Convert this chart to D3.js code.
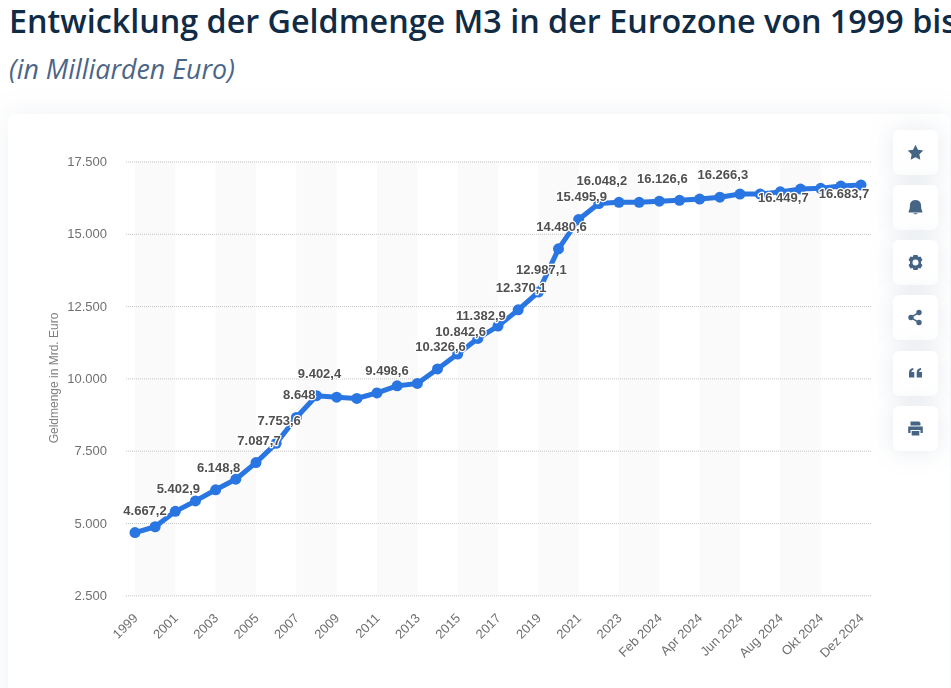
<!DOCTYPE html>
<html>
<head>
<meta charset="utf-8">
<script src="https://cdn.jsdelivr.net/npm/d3@7"></script>
<style>
  html, body { margin: 0; padding: 0; background: #fff; overflow: hidden; }
  svg { display: block; }
  .title { font: 600 32.3px "Open Sans"; fill: #0f2b46; }
  .subtitle { font: italic 400 26.8px "Open Sans"; fill: #4a6587; }
  .tick text { font-family: "Liberation Sans"; font-size: 13px; fill: #707070; }
  .ytitle { font: 12px "Liberation Sans"; fill: #808080; opacity: 0.999; }
  .dlabel { font: bold 13px "Liberation Sans"; fill: #505050; stroke: #fff; stroke-width: 2.5px; paint-order: stroke; stroke-linejoin: round; }
</style>
</head>
<body>
<svg id="chart" width="951" height="688"></svg>
<script>
const categories = ["1999","2000","2001","2002","2003","2004","2005","2006","2007","2008","2009","2010","2011","2012","2013","2014","2015","2016","2017","2018","2019","2020","2021","2022","2023",
  "Jan 2024","Feb 2024","Mär 2024","Apr 2024","Mai 2024","Jun 2024","Jul 2024","Aug 2024","Sep 2024","Okt 2024","Nov 2024","Dez 2024"];
const values = [4667.2,4870,5402.9,5763,6148.8,6514,7087.7,7753.6,8648,9402.4,9351,9306,9498.6,9742,9825,10326.6,10842.6,11382.9,11808,12370.1,12987.1,14480.6,15495.9,16048.2,16087,
  16090,16126.6,16157,16202,16266.3,16375,16375,16449.7,16548,16573,16650,16683.7];
const yTicks = [2500,5000,7500,10000,12500,15000,17500];
const labelled = ["1999","2001","2003","2005","2006","2007","2008","2011","2014","2015","2016","2018","2019","2020","2021","2022","Feb 2024","Mai 2024","Aug 2024","Dez 2024"];
// labels that don't sit the usual way above their point
const labelShift = { "1999": [10, -22], "2011": [10, -22], "Aug 2024": [3, 6], "Dez 2024": [-17, 8] };

const de = d3.formatLocale({ decimal: ",", thousands: ".", grouping: [3], currency: ["", " €"] });
const fmtTick = de.format(",d");
const fmtLabel = de.format(",.1~f");

const svg = d3.select("#chart");
const blue = "#2975e1";

// header
svg.append("text").attr("class", "title").attr("x", 9).attr("y", 33).text("Entwicklung der Geldmenge M3 in der Eurozone von 1999 bis");
svg.append("text").attr("class", "subtitle").attr("x", 9).attr("y", 79).text("(in Milliarden Euro)");

// card
svg.append("rect").attr("x", 8).attr("y", 114).attr("width", 942).attr("height", 640).attr("rx", 7)
  .attr("fill", "#fff").style("filter", "drop-shadow(0 0 14px rgba(70,100,132,0.09))");

const x = d3.scalePoint().domain(categories).range([135, 861]);
const y = d3.scaleLinear().domain([2500, 17500]).range([595.3, 161.5]);

// alternating bands
const bandStarts = d3.range(0, categories.length - 2, 4);
svg.append("g").selectAll("rect").data(bandStarts).join("rect")
  .attr("x", i => x(categories[i]))
  .attr("width", i => x(categories[i + 2]) - x(categories[i]))
  .attr("y", y(17500)).attr("height", y(2500) - y(17500))
  .attr("fill", "#fafafa");

// y axis + grid
const yAxis = svg.append("g").attr("transform", "translate(126,0)").style("opacity", 0.999)
  .call(d3.axisLeft(y).tickValues(yTicks).tickFormat(fmtTick).tickSize(-745).tickPadding(19));
yAxis.select(".domain").remove();
yAxis.selectAll(".tick line").attr("stroke", "#c4c4c4").attr("stroke-dasharray", "1,1");

svg.append("text").attr("class", "ytitle").attr("text-anchor", "middle")
  .attr("transform", "translate(58,378) rotate(-90)").text("Geldmenge in Mrd. Euro");

// x axis
const xAxis = svg.append("g").attr("transform", "translate(0,595)").style("opacity", 0.999)
  .call(d3.axisBottom(x).tickValues(categories.filter((d, i) => i % 2 == 0)).tickSize(0));
xAxis.select(".domain").remove();
xAxis.selectAll(".tick text")
  .attr("text-anchor", "end").attr("dy", null).attr("y", 0)
  .attr("transform", "translate(3,24) rotate(-45)");

// line + points
const line = d3.line().x((d, i) => x(categories[i])).y(d => y(d));
svg.append("path").datum(values).attr("d", line).attr("fill", "none")
  .attr("stroke", blue).attr("stroke-width", 5).attr("stroke-linejoin", "round");
svg.append("g").selectAll("circle").data(values).join("circle")
  .attr("cx", (d, i) => x(categories[i])).attr("cy", d => y(d)).attr("r", 5.5).attr("fill", blue);

// data labels
svg.append("g").style("opacity", 0.999).selectAll("text").data(labelled).join("text")
  .attr("class", "dlabel").attr("text-anchor", "middle").attr("dominant-baseline", "central")
  .attr("x", c => x(c) + (labelShift[c] ? labelShift[c][0] : 3))
  .attr("y", c => y(values[categories.indexOf(c)]) + (labelShift[c] ? labelShift[c][1] : -22.5))
  .text(c => fmtLabel(values[categories.indexOf(c)]));

// side buttons
const iconColor = "#466484";
const buttonTops = [130, 185, 240, 295, 351, 406];
const dot = (cx, cy, r) => `M${cx - r},${cy} A${r},${r} 0 1,0 ${cx + r},${cy} A${r},${r} 0 1,0 ${cx - r},${cy}Z`;
const icons = [
  "M0,-7.8 L2.4,-2.8 7.8,-2 3.9,1.8 4.8,7.2 0,4.7 -4.8,7.2 -3.9,1.8 -7.8,-2 -2.4,-2.8Z",
  "M0,-7.5 C4.4,-7.5 5.6,-4.4 5.6,-1.5 C5.6,1.2 6.2,2.6 6.8,3.6 L6.8,5 L-6.8,5 L-6.8,3.6 C-6.2,2.6 -5.6,1.2 -5.6,-1.5 C-5.6,-4.4 -4.4,-7.5 0,-7.5Z M-2.2,5.8 L2.2,5.8 C2,7.2 -2,7.2 -2.2,5.8Z",
  "M-2,-7.5 L2,-7.5 2.8,-5.4 5,-6 7,-2.6 5.5,-1 5.5,1 7,2.6 5,6 2.8,5.4 2,7.5 -2,7.5 -2.8,5.4 -5,6 -7,2.6 -5.5,1 -5.5,-1 -7,-2.6 -5,-6 -2.8,-5.4Z" + dot(0, 0, 3),
  dot(3.5, -5, 2.7) + dot(-4.5, 0, 2.7) + dot(3.5, 5, 2.7) + "M-4.5,0.9 L3.1,5.8 3.9,4.2 -3.7,0 3.9,-4.2 3.1,-5.8 -4.5,-0.9Z",
  "M-6.5,-0.8 C-6.5,-3.8 -5,-5.2 -2.2,-5.6 L-2.2,-3.6 C-3.4,-3.4 -4,-2.8 -4.1,-1.6 L-1.2,-1.6 L-1.2,4 L-6.5,4Z M1.2,-0.8 C1.2,-3.8 2.7,-5.2 5.5,-5.6 L5.5,-3.6 C4.3,-3.4 3.7,-2.8 3.6,-1.6 L6.5,-1.6 L6.5,4 L1.2,4Z",
  "M-5,-7 L3.6,-7 5,-5.6 5,-3 -5,-3Z M-7.3,-2 L7.3,-2 7.3,4.6 5,4.6 5,1.4 -5,1.4 -5,4.6 -7.3,4.6Z M-3.8,2.6 L3.8,2.6 3.8,7 -3.8,7Z"
];
const buttons = svg.append("g").selectAll("g").data(buttonTops).join("g")
  .attr("transform", d => `translate(893,${d})`);
buttons.append("rect").attr("width", 45).attr("height", 45).attr("rx", 6).attr("fill", "#fff")
  .style("filter", "drop-shadow(0 0 12px rgba(70,100,132,0.14))");
buttons.append("path").attr("transform", "translate(22.5,22.5)")
  .attr("d", (d, i) => icons[i]).attr("fill", iconColor).attr("fill-rule", "nonzero");
</script>
</body>
</html>
